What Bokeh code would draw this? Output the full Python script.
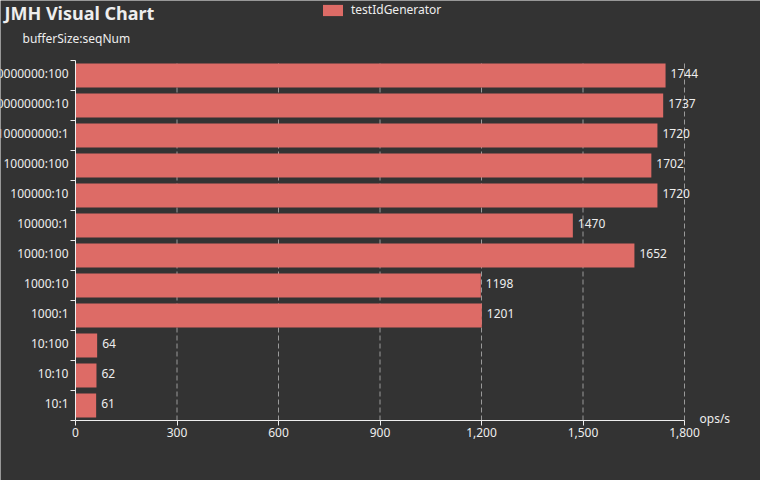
from bokeh.plotting import figure
from bokeh.models import (ColumnDataSource, Range1d, FixedTicker, LinearAxis,
                          NumeralTickFormatter, LabelSet, Label, Legend, LegendItem)
from bokeh.core.properties import value
from bokeh.embed import file_html
from bokeh.resources import INLINE

# ---- data ----
categories = ["10:1", "10:10", "10:100", "1000:1", "1000:10", "1000:100",
              "100000:1", "100000:10", "100000:100",
              "100000000:1", "100000000:10", "100000000:100"]
values = [61, 62, 64, 1201, 1198, 1652, 1470, 1720, 1702, 1720, 1737, 1744]
x_ticks = [0, 300, 600, 900, 1200, 1500, 1800]
series_name = "testIdGenerator"
title_text = "JMH Visual Chart"
y_name = "bufferSize:seqNum"
x_name = "ops/s"

FONT = "Noto Sans"
BG = "#333333"
TXT = "#eeeeee"
BAR = "#dd6b66"

# ---- layout (pixels) ----
W, H = 760, 480
PL, PR, PT, PB = 75, 684, 60, 420          # plot area inside the canvas
n = len(categories)
x_max = x_ticks[-1]
kx = (PR - PL) / x_max                       # px per unit
ky = (PB - PT) / n
x_rng = Range1d(-PL / kx, x_max + (W - PR) / kx)
y_rng = Range1d(-(H - PB) / ky, n + PT / ky)

band_pos = [i + 0.5 for i in range(n)]  # band centres on the category scale
src = ColumnDataSource(dict(cat=categories, pos=band_pos, val=values,
                            lab=[str(v) for v in values]))
gsrc = ColumnDataSource(dict(t=x_ticks[1:], y0=[0] * (len(x_ticks) - 1),
                             y1=[n] * (len(x_ticks) - 1)))

p = figure(width=W, height=H, output_backend="svg", toolbar_location=None,
           x_range=x_rng, y_range=y_rng, x_axis_location=None, y_axis_location=None,
           min_border=0, min_border_left=0, min_border_right=0,
           min_border_top=0, min_border_bottom=0)
p.background_fill_color = BG
p.border_fill_color = BG
p.outline_line_color = None
p.grid.visible = False

# dashed split lines
p.segment(x0="t", y0="y0", x1="t", y1="y1", source=gsrc,
          line_color="#9a9a9a", line_width=1, line_dash="5 3")

r = p.hbar(y="pos", right="val", left=0, height=0.8, source=src,
           fill_color=BAR, line_color=None)

# x axis
xa = LinearAxis(fixed_location=0, bounds=(0, x_max), ticker=FixedTicker(ticks=x_ticks),
                formatter=NumeralTickFormatter(format="0,0"))
xa.axis_line_color = TXT
xa.major_tick_line_color = TXT
xa.major_tick_out = 5
xa.major_tick_in = 0
xa.minor_tick_line_color = None
xa.major_label_text_color = TXT
xa.major_label_text_font = FONT
xa.major_label_text_font_size = "12px"
xa.major_label_standoff = 2
p.add_layout(xa, "below")

# y axis: line with ticks at band boundaries (category labels drawn below)
ya = LinearAxis(fixed_location=0, bounds=(0, n), ticker=FixedTicker(ticks=list(range(n + 1))))
ya.major_label_text_font_size = "0px"
ya.major_label_standoff = 0
ya.axis_line_color = TXT
ya.major_tick_line_color = TXT
ya.major_tick_out = 5
ya.major_tick_in = 0
ya.minor_tick_line_color = None
p.add_layout(ya, "left")

# category labels
p.add_layout(LabelSet(x=0, y="pos", text="cat", source=src, x_offset=-7, y_offset=2,
                      text_align="right", text_baseline="middle",
                      text_color=TXT, text_font=value(FONT), text_font_size="12px"))
# value labels
p.add_layout(LabelSet(x="val", y="pos", text="lab", source=src, x_offset=5, y_offset=2,
                      text_align="left", text_baseline="middle",
                      text_color=TXT, text_font=value(FONT), text_font_size="12px"))

# title & axis names (screen units, origin bottom-left of the canvas)
p.add_layout(Label(x=4, y=H, x_units="screen", y_units="screen",
                   text=title_text, text_font=FONT, text_font_size="18px",
                   text_font_style="bold", text_color=TXT, text_baseline="top"))
p.add_layout(Label(x=22, y=H - 38, x_units="screen", y_units="screen",
                   text=y_name, text_font=FONT, text_font_size="12px",
                   text_color=TXT, text_baseline="middle"))
p.add_layout(Label(x=699, y=H - 418, x_units="screen", y_units="screen",
                   text=x_name, text_font=FONT, text_font_size="12px",
                   text_color=TXT, text_baseline="middle"))

legend = Legend(items=[LegendItem(label=series_name, renderers=[r])],
                location=(320, H - 18), orientation="horizontal",
                glyph_width=25, glyph_height=14, label_height=14,
                label_text_font=FONT, label_text_font_size="12px", label_text_color=TXT,
                label_standoff=6, padding=0, margin=0, spacing=0,
                background_fill_alpha=0, border_line_alpha=0)
p.add_layout(legend)

open("out.html", "w").write(file_html(p, INLINE))
